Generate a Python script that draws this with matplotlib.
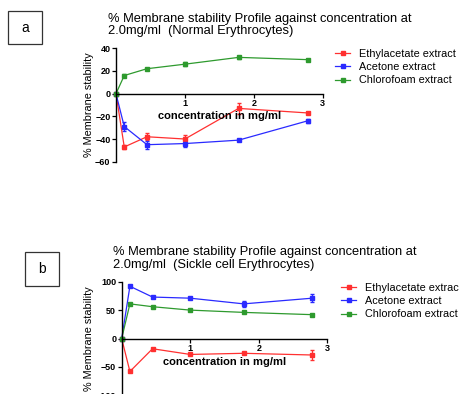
import numpy as np
import matplotlib
matplotlib.use("Agg")
import matplotlib.pyplot as plt
from matplotlib.patches import Rectangle
from matplotlib.lines import Line2D

# ---- data ----
conc = [0, 0.12, 0.45, 1.0, 1.78, 2.78]
series_names = ["Ethylacetate extract", "Acetone extract", "Chlorofoam extract"]
colors = ["#ff3030", "#2a2aff", "#2e9a2e"]

# panel a: normal erythrocytes
a_ethyl = [0, -47, -38, -40, -13, -17]
a_ethyl_err = [0, 1.5, 3, 3.5, 5, 1]
a_acet = [0, -29, -45, -44, -41, -24]
a_acet_err = [0, 4, 3.5, 3, 1, 2]
a_chloro = [0, 16, 22, 26, 32, 30]
a_chloro_err = [0, 1, 1, 2, 1, 1]

# panel b: sickle cell erythrocytes
b_ethyl = [0, -58, -18, -28, -26, -29]
b_ethyl_err = [0, 1, 1, 1, 2, 8]
b_acet = [0, 92, 73, 71, 61, 71]
b_acet_err = [0, 1, 2, 2, 5, 7]
b_chloro = [0, 61, 56, 50, 46, 42]
b_chloro_err = [0, 2, 1, 1, 1, 1]

plt.rcParams['font.family'] = ['Liberation Sans', 'DejaVu Sans']
fig = plt.figure(figsize=(4.59, 3.94), dpi=100, facecolor='white')


def panel(pos, ylim, yticks, series, title, xlab_y, legend_xy):
    ax = fig.add_axes(pos)
    for (vals, errs), col in zip(series, colors):
        ax.errorbar(conc, vals, yerr=errs, color=col, lw=0.9, marker='s',
                    ms=2.2, capsize=1.5, elinewidth=0.9, clip_on=False)
    ax.set_xlim(0, 3)
    ax.set_ylim(*ylim)
    ax.set_yticks(yticks)
    ax.set_xticks([1, 2, 3])
    ax.spines['top'].set_visible(False)
    ax.spines['right'].set_visible(False)
    ax.spines['bottom'].set_position(('data', 0))
    for s in ['left', 'bottom']:
        ax.spines[s].set_linewidth(1.0)
    ax.tick_params(length=3, width=0.9, labelsize=6.5, pad=1)
    for lab in ax.get_xticklabels() + ax.get_yticklabels():
        lab.set_fontweight('bold')
    ax.set_ylabel("% Membrane stability", fontsize=7.8, labelpad=1)
    ax.text(0.5, xlab_y, "concentration in mg/ml", transform=ax.transAxes,
            ha='center', va='center', fontsize=8, fontweight='bold')
    ax.set_title(title, fontsize=9.3, loc='left', x=-0.04, pad=10, linespacing=1.05)
    handles = [Line2D([], [], color=c, lw=0.9, marker='s', ms=2.2) for c in colors]
    ax.legend(handles, series_names, loc='upper left', bbox_to_anchor=legend_xy,
              bbox_transform=fig.transFigure, frameon=False, fontsize=7.8,
              handlelength=1.4, handletextpad=0.8, labelspacing=0.3,
              borderaxespad=0, borderpad=0)
    return ax


ax1 = panel([0.2527, 0.5896, 0.4503, 0.2878], (-60, 40), [-60, -40, -20, 0, 20, 40],
            [(a_ethyl, a_ethyl_err), (a_acet, a_acet_err), (a_chloro, a_chloro_err)],
            "% Membrane stability Profile against concentration at\n2.0mg/ml  (Normal Erythrocytes)",
            0.403, (0.73, 0.876))
ax2 = panel([0.2651, -0.0034, 0.448, 0.2884], (-100, 100), [-100, -50, 0, 50, 100],
            [(b_ethyl, b_ethyl_err), (b_acet, b_acet_err), (b_chloro, b_chloro_err)],
            "% Membrane stability Profile against concentration at\n2.0mg/ml  (Sickle cell Erythrocytes)",
            0.295, (0.743, 0.282))

# boxed panel letters
for (x0, y0, w, h), letter in [((8, 11, 34, 33), "a"), ((25, 252, 34, 34), "b")]:
    fig.patches.append(Rectangle((x0 / 459, 1 - (y0 + h) / 394), w / 459, h / 394,
                                 transform=fig.transFigure, fill=False, lw=0.9, ec='#333333'))
    fig.text((x0 + w / 2) / 459, 1 - (y0 + h / 2) / 394, letter, ha='center', va='center', fontsize=10)

fig.savefig("out.png", dpi=100)
